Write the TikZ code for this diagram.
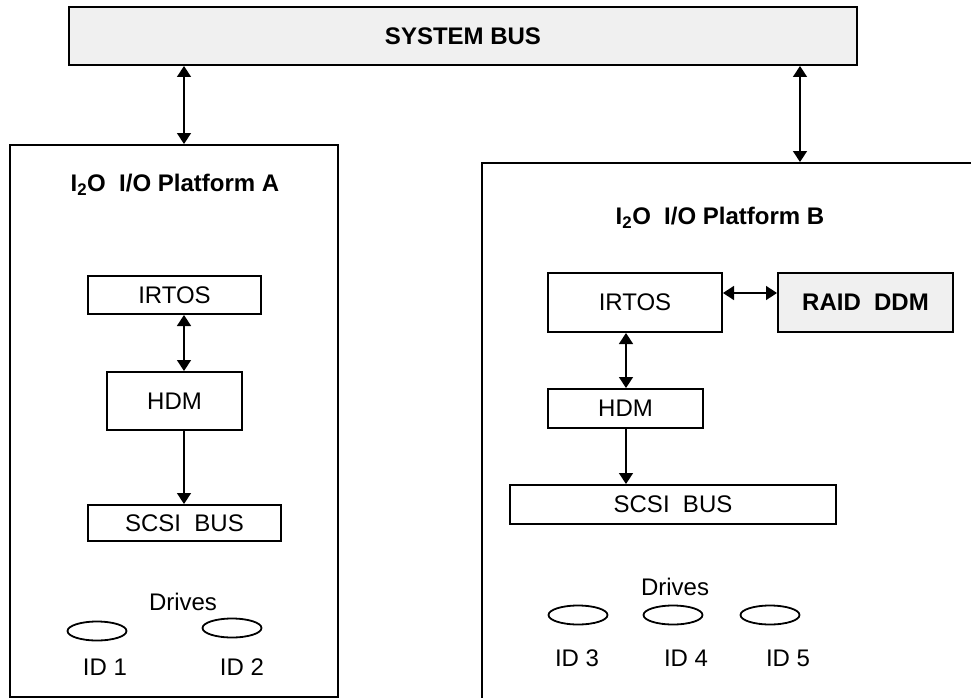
\documentclass[tikz,border=0pt]{standalone}
\usepackage{fontspec}
\setmainfont{Liberation Sans}
\usetikzlibrary{arrows.meta,shapes.geometric}

\begin{document}
\begin{tikzpicture}[x=1pt,y=-1pt,
		every node/.style={font=\fontsize{24}{28}\selectfont, inner sep=0pt},
		box/.style={draw, line width=2pt, rectangle},
		shaded/.style={box, fill=gray!12, font=\fontsize{24}{28}\selectfont\bfseries},
		title/.style={font=\fontsize{24}{28}\selectfont\bfseries},
		disk/.style={draw, line width=1.8pt, ellipse, minimum width=59pt, minimum height=19pt},
		link/.style={line width=1.5pt, {Triangle[length=11pt,width=14pt]}-{Triangle[length=11pt,width=14pt]}},
		feed/.style={line width=1.5pt, -{Triangle[length=11pt,width=14pt]}}]
		\useasboundingbox (0,0) rectangle (971,698);
		% bus and the two platforms
		\node[shaded, minimum width=788, minimum height=58] (sysbus) at (463,36) {SYSTEM BUS};
		\node[box, minimum width=328, minimum height=552] (platA) at (174,421) {};
		\node[box, minimum width=493, minimum height=547] (platB) at (728.5,436.5) {};
		\node[title] (titleA) at (175,185) {I\textsubscript{2}O~~I/O Platform A};
		\node[title] (titleB) at (720,218) {I\textsubscript{2}O~~I/O Platform B};
		\coordinate (busA) at (184,0);
		\coordinate (busB) at (800,0);
		\draw[link] (sysbus.south -| busA) -- (platA.north -| busA);
		\draw[link] (sysbus.south -| busB) -- (platB.north -| busB);
		% platform A
		\node[box, minimum width=173, minimum height=38] (irtosA) at (174.5,295) {IRTOS};
		\node[box, minimum width=135, minimum height=58] (hdmA) at (174.5,401) {HDM};
		\node[box, minimum width=193, minimum height=36] (scsiA) at (184.5,523) {SCSI~~BUS};
		\draw[link] (irtosA.south -| busA) -- (hdmA.north -| busA);
		\draw[feed] (hdmA.south -| busA) -- (scsiA.north -| busA);
		\node (drivesA) at (183,602) {Drives};
		\node[disk] (id1) at (97,631) {};
		\node[disk] (id2) at (232,628) {};
		\node (lid1) at (105,667) {ID 1};
		\node (lid2) at (242,667) {ID 2};
		% platform B
		\node[box, minimum width=174, minimum height=59] (irtosB) at (635,302.5) {IRTOS};
		\node[shaded, minimum width=175, minimum height=59] (raid) at (865.5,302.5) {RAID~~DDM};
		\node[box, minimum width=155, minimum height=39] (hdmB) at (625.5,408.5) {HDM};
		\node[box, minimum width=326, minimum height=39] (scsiB) at (673,504.5) {SCSI~~BUS};
		\coordinate (colB) at (626,0);
		\coordinate (rowR) at (0,293);
		\draw[link] (irtosB.east |- rowR) -- (raid.west |- rowR);
		\draw[link] (irtosB.south -| colB) -- (hdmB.north -| colB);
		\draw[feed] (hdmB.south -| colB) -- (scsiB.north -| colB);
		\node (drivesB) at (675,587) {Drives};
		\node[disk] (id3) at (578,615) {};
		\node[disk] (id4) at (673,615) {};
		\node[disk] (id5) at (770,615) {};
		\node (lid3) at (577,658) {ID 3};
		\node (lid4) at (686,658) {ID 4};
		\node (lid5) at (788,658) {ID 5};
\end{tikzpicture}
\end{document}
